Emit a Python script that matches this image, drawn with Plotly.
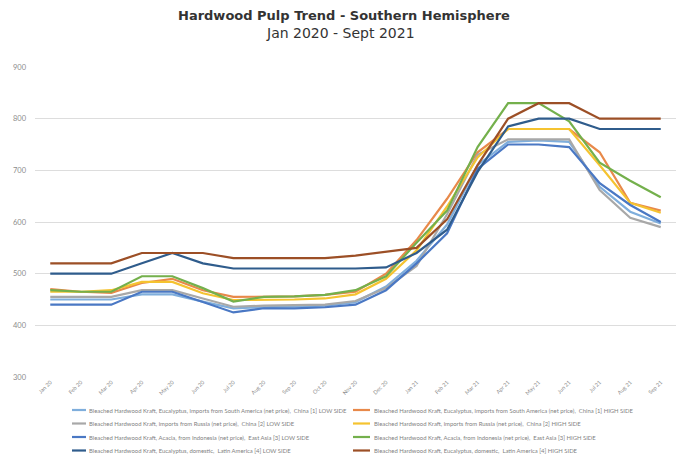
import plotly.graph_objects as go

months = ["Jan 20", "Feb 20", "Mar 20", "Apr 20", "May 20", "Jun 20", "Jul 20",
          "Aug 20", "Sep 20", "Oct 20", "Nov 20", "Dec 20", "Jan 21", "Feb 21",
          "Mar 21", "Apr 21", "May 21", "Jun 21", "Jul 21", "Aug 21", "Sep 21"]

names = [
    "Bleached Hardwood Kraft, Eucalyptus, imports from South America (net price),  China [1] LOW SIDE",
    "Bleached Hardwood Kraft, Eucalyptus, imports from South America (net price),  China [1] HIGH SIDE",
    "Bleached Hardwood Kraft, imports from Russia (net price),  China [2] LOW SIDE",
    "Bleached Hardwood Kraft, imports from Russia (net price),  China [2] HIGH SIDE",
    "Bleached Hardwood Kraft, Acacia, from Indonesia (net price),  East Asia [3] LOW SIDE",
    "Bleached Hardwood Kraft, Acacia, from Indonesia (net price),  East Asia [3] HIGH SIDE",
    "Bleached Hardwood Kraft, Eucalyptus, domestic,  Latin America [4] LOW SIDE",
    "Bleached Hardwood Kraft, Eucalyptus, domestic,  Latin America [4] HIGH SIDE",
]

sa_china_low = [450, 450, 450, 460, 460, 446, 433, 435, 436, 438, 445, 475, 525, 595, 710, 755, 758, 755, 668, 620, 597]
sa_china_high = [470, 465, 463, 482, 490, 468, 455, 455, 456, 459, 465, 500, 565, 645, 735, 780, 780, 780, 735, 637, 622]
ru_china_low = [455, 455, 455, 468, 468, 452, 436, 438, 439, 440, 447, 472, 515, 615, 730, 760, 760, 760, 662, 608, 590]
ru_china_high = [465, 465, 468, 484, 484, 462, 449, 449, 450, 452, 460, 490, 545, 630, 725, 780, 780, 780, 710, 637, 618]
id_asia_low = [440, 440, 440, 465, 465, 445, 425, 433, 433, 435, 440, 468, 520, 578, 703, 750, 750, 745, 675, 633, 600]
id_asia_high = [468, 465, 465, 495, 495, 472, 446, 455, 456, 459, 468, 495, 560, 622, 745, 830, 830, 795, 715, 680, 648]
la_dom_low = [500, 500, 500, 520, 540, 520, 510, 510, 510, 510, 510, 512, 540, 585, 697, 785, 800, 800, 780, 780, 780]
la_dom_high = [520, 520, 520, 540, 540, 540, 530, 530, 530, 530, 535, 542, 550, 605, 710, 800, 830, 830, 800, 800, 800]

series = [sa_china_low, sa_china_high, ru_china_low, ru_china_high,
          id_asia_low, id_asia_high, la_dom_low, la_dom_high]
colors = ["#7FAEDC", "#E8894A", "#A8A8A8", "#F5C330",
          "#4A78C4", "#74B04C", "#2F5C8C", "#9C4F26"]

W, H = 682, 454
ML, MR, MT, MB = 35, 6, 67, 77
PW, PH = W - ML - MR, H - MT - MB


def px_x(x):
    return (x - ML) / PW


def px_y(y):
    return (H - MB - y) / PH


fig = go.Figure()
for name, vals, col in zip(names, series, colors):
    fig.add_trace(go.Scatter(x=months, y=vals, mode="lines", name=name,
                             line=dict(color=col, width=2.2)))

annotations = [
    dict(text="<b>Hardwood Pulp Trend - Southern Hemisphere</b>",
         x=px_x(344), y=px_y(16), xref="paper", yref="paper",
         xanchor="center", yanchor="middle", showarrow=False,
         font=dict(family="DejaVu Sans", size=13, color="#333333")),
    dict(text="Jan 2020 - Sept 2021",
         x=px_x(340), y=px_y(33.5), xref="paper", yref="paper",
         xanchor="center", yanchor="middle", showarrow=False,
         font=dict(family="DejaVu Sans", size=14, color="#333333")),
]

# legend drawn as two columns, four rows
shapes = []
col_line_x = [(72, 86), (353, 370)]
col_text_x = [87, 372]
row_y = [410, 423.5, 437, 450.5]
for i, (name, col) in enumerate(zip(names, colors)):
    r, c = divmod(i, 2)
    shapes.append(dict(type="line", xref="paper", yref="paper",
                       x0=px_x(col_line_x[c][0]), x1=px_x(col_line_x[c][1]),
                       y0=px_y(row_y[r]), y1=px_y(row_y[r]),
                       line=dict(color=col, width=2.2)))
    annotations.append(dict(text=name, x=px_x(col_text_x[c]), y=px_y(row_y[r]),
                            xref="paper", yref="paper", xanchor="left",
                            yanchor="middle", showarrow=False,
                            font=dict(size=5.9, color="#7F7F7F")))

fig.update_layout(
    width=W, height=H,
    margin=dict(l=ML, r=MR, t=MT, b=MB, autoexpand=False),
    paper_bgcolor="white", plot_bgcolor="white",
    font=dict(family="Lato, Open Sans, sans-serif", color="#808080"),
    showlegend=False,
    annotations=annotations,
    shapes=shapes,
)

fig.update_xaxes(type="category", range=[-0.5, 20.5], showgrid=False,
                 tickangle=-45, tickfont=dict(size=5.5, color="#8C8C8C"),
                 showline=False, ticks="", automargin=False)
fig.update_yaxes(range=[300, 900], dtick=100, showgrid=True, gridcolor="#DDDDDD",
                 gridwidth=1, zeroline=False, tickfont=dict(size=7.5, color="#8C8C8C"),
                 ticks="", ticklabelstandoff=8, automargin=False)

fig.write_html("out.html", config={"displayModeBar": False},
               post_script="document.body.style.margin='0px';document.body.style.overflow='hidden';")
